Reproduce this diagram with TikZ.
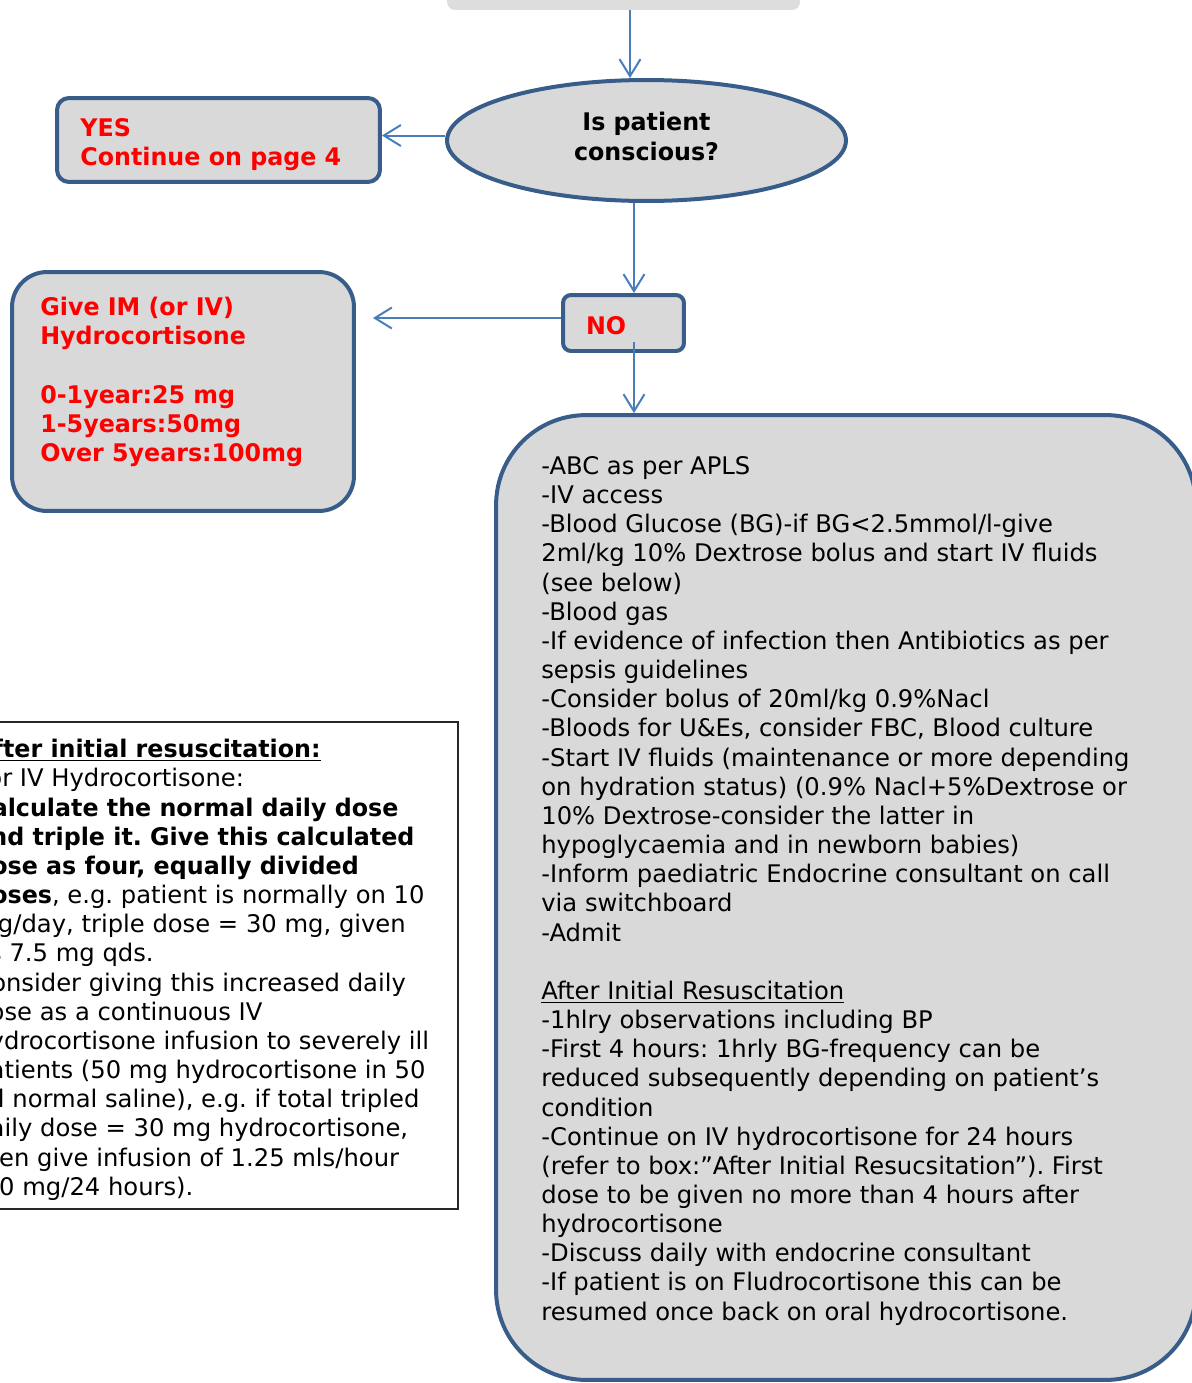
\documentclass[tikz,border=0pt]{standalone}
\usepackage{fontspec}
\setmainfont{DejaVu Sans}[BoldFeatures={FakeStretch=0.98}]
\usepackage{xcolor}
\usepackage{tikz}
\usetikzlibrary{positioning,shapes,arrows.meta,calc}
\definecolor{boxblue}{HTML}{385D8A}
\definecolor{arrowblue}{HTML}{4A7EBB}
\definecolor{boxgray}{HTML}{D9D9D9}
\definecolor{topgray}{HTML}{DDDDDD}
\definecolor{alarmred}{HTML}{FF0000}
\newcommand{\chartfont}{\fontsize{13.8}{16.6}\selectfont\frenchspacing}

\begin{document}
\begin{tikzpicture}[x=0.02cm, y=-0.02cm, font=\chartfont,
		flowbox/.style={draw=boxblue, line width=0.08cm, fill=boxgray, rectangle},
		redtext/.style={text=alarmred, font=\chartfont\bfseries, align=left},
		plaintext/.style={inner sep=0pt, align=left, anchor=north west},
		arr/.style={draw=arrowblue, line width=0.04cm, -{Straight Barb[length=0.34cm,width=0.42cm]}}]
		\useasboundingbox (0,0) rectangle (1192,1383);
		\clip (0,0) rectangle (1192,1383);
		\node[fill=topgray, rounded corners=0.16cm, minimum width=7.06cm, minimum height=0.8cm] (prev) at (623.5,-10) {};
		\node[flowbox, ellipse, minimum width=7.98cm, minimum height=2.42cm, inner sep=0pt, align=center,
			text depth=0.17cm, font=\chartfont\bfseries] (conscious) at (646.5,140.5)
			{Is patient\\conscious?};
		\node[flowbox, rounded corners=0.24cm, minimum width=6.46cm, minimum height=1.68cm] (yes) at (218.5,140) {};
		\node[plaintext, redtext] (yestext) at (80,118) {YES\\Continue on page 4};
		\node[flowbox, redtext, rounded corners=0.16cm, minimum width=2.42cm, minimum height=1.12cm,
			inner xsep=0.46cm, text width=1.5cm, text height=0.47cm] (no) at (623.5,323) {NO};
		\node[flowbox, rounded corners=0.7cm, minimum width=6.84cm, minimum height=4.78cm] (give) at (183,391.5) {};
		\node[plaintext, redtext] (givetext) at (40,297)
			{Give IM (or IV)\\Hydrocortisone\\[16.6pt]0-1year:25 mg\\1-5years:50mg\\Over 5years:100mg};
		\node[flowbox, rounded corners=1.8cm, minimum width=14cm, minimum height=19.3cm] (actions) at (846,897.5) {};
		\node[plaintext] (actionstext) at (541,456)
			{-ABC as per APLS\\
			-IV access\\
			-Blood Glucose (BG)-if BG<2.5mmol/l-give\\
			2ml/kg 10\% Dextrose bolus and start IV fluids\\
			(see below)\\
			-Blood gas\\
			-If evidence of infection then Antibiotics as per\\
			sepsis guidelines\\
			-Consider bolus of 20ml/kg 0.9\%Nacl\\
			-Bloods for U\&Es, consider FBC, Blood culture\\
			-Start IV fluids (maintenance or more depending\\
			on hydration status) (0.9\% Nacl+5\%Dextrose or\\
			10\% Dextrose-consider the latter in\\
			hypoglycaemia and in newborn babies)\\
			-Inform paediatric Endocrine consultant on call\\
			via switchboard\\
			-Admit\\[16.6pt]
			\underline{After Initial Resuscitation}\\
			-1hlry observations including BP\\
			-First 4 hours: 1hrly BG-frequency can be\\
			reduced subsequently depending on patient’s\\
			condition\\
			-Continue on IV hydrocortisone for 24 hours\\
			(refer to box:”After Initial Resucsitation”). First\\
			dose to be given no more than 4 hours after\\
			hydrocortisone\\
			-Discuss daily with endocrine consultant\\
			-If patient is on Fludrocortisone this can be\\
			resumed once back on oral hydrocortisone.};
		\node[draw=black!85, line width=0.04cm, fill=white, minimum width=10.16cm, minimum height=9.74cm] (after) at (204,965.5) {};
		\node[plaintext] (aftertext) at (-26,739)
			{\textbf{\underline{After initial resuscitation:}}\\
			For IV Hydrocortisone:\\
			\textbf{Calculate the normal daily dose}\\
			\textbf{and triple it. Give this calculated}\\
			\textbf{dose as four, equally divided}\\
			\textbf{doses}, e.g. patient is normally on 10\\
			mg/day, triple dose = 30 mg, given\\
			as 7.5 mg qds.\\
			Consider giving this increased daily\\
			dose as a continuous IV\\
			hydrocortisone infusion to severely ill\\
			patients (50 mg hydrocortisone in 50\\
			ml normal saline), e.g. if total tripled\\
			daily dose = 30 mg hydrocortisone,\\
			then give infusion of 1.25 mls/hour\\
			(30 mg/24 hours).};
		\draw[arr] ([xshift=0.13cm]prev.south) -- ([xshift=0.13cm]prev.south |- conscious.north);
		\draw[arr] ([yshift=0.1cm]conscious.west) -- ([yshift=0.1cm]conscious.west -| yes.east);
		\draw[arr] ([xshift=0.21cm]no.north |- conscious.south) -- ([xshift=0.21cm]no.north);
		\draw[arr, shorten >=0.34cm] ([yshift=0.1cm]no.west) -- ([yshift=0.1cm]no.west -| give.east);
		\draw[arr] ([xshift=0.21cm,yshift=0.22cm]no.south) -- ([xshift=0.21cm]no.south |- actions.north);
	\end{tikzpicture}
\end{document}
